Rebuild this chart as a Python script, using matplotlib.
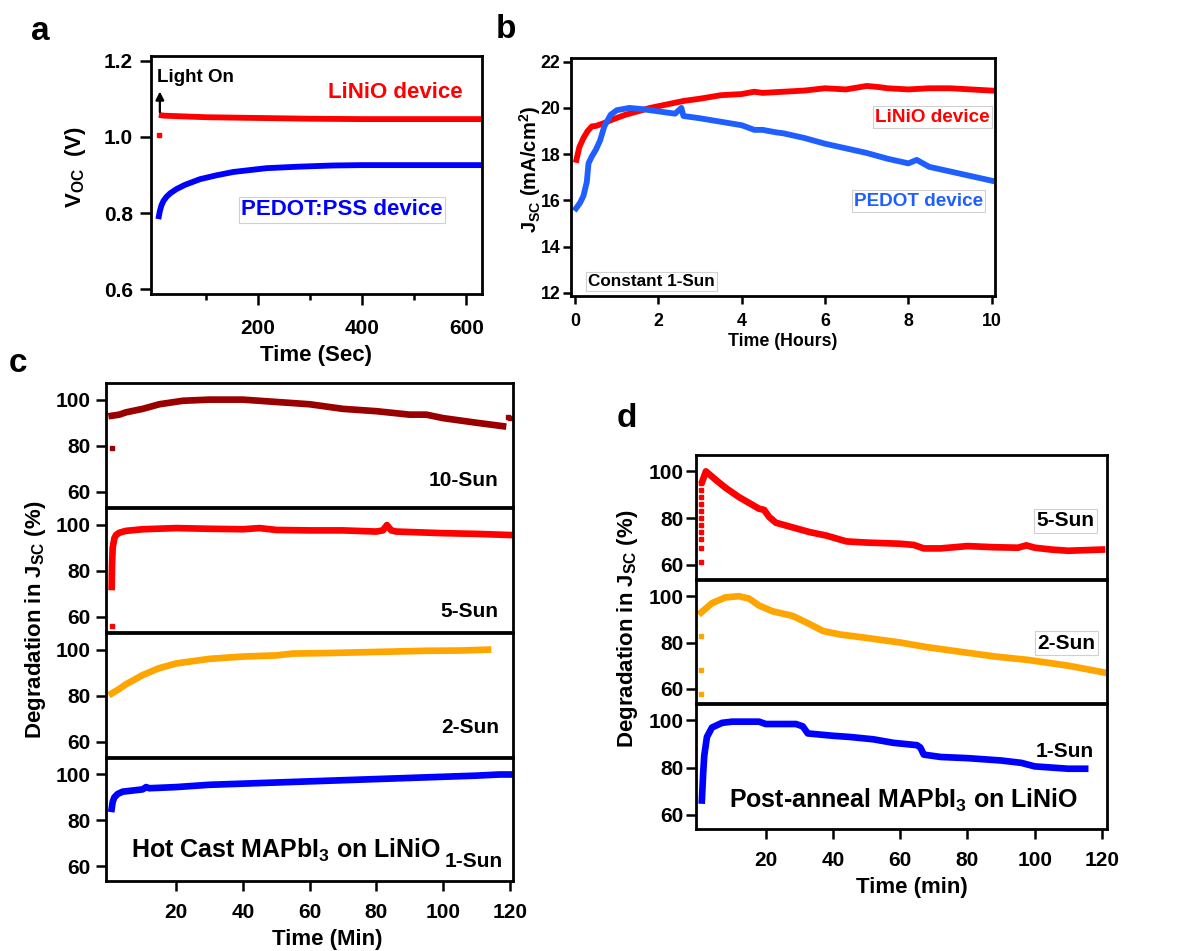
import matplotlib
matplotlib.use("Agg")
import matplotlib.pyplot as plt
from matplotlib import font_manager

# ---------------- data ----------------
# panel a : Voc vs time (s)
a_time_red = [10, 20, 40, 60, 100, 150, 200, 250, 300, 400, 500, 630]
a_voc_red = [1.058, 1.056, 1.055, 1.054, 1.052, 1.051, 1.050, 1.049, 1.048, 1.047, 1.047, 1.047]
a_time_red_first = [10]
a_voc_red_first = [1.005]
a_time_blue = [9, 12, 15, 19, 25, 32, 44, 60, 89, 120, 153, 217, 280, 344, 400, 500, 630]
a_voc_blue = [0.784, 0.805, 0.820, 0.832, 0.843, 0.852, 0.863, 0.874, 0.889, 0.899, 0.908, 0.918, 0.922, 0.925, 0.926, 0.926, 0.926]

# panel b : Jsc vs time (hours)
b_time_red = [0.03, 0.1, 0.2, 0.3, 0.4, 0.5, 0.7, 0.9, 1.2, 1.5, 1.8, 2.2, 2.6, 3.0, 3.5,
              4.0, 4.3, 4.5, 5.0, 5.5, 6.0, 6.5, 7.0, 7.3, 7.5, 8.0, 8.5, 9.0, 9.5, 10.0]
b_jsc_red = [17.75, 18.3, 18.7, 19.0, 19.2, 19.22, 19.35, 19.5, 19.7, 19.85, 20.0, 20.15, 20.3, 20.4, 20.55,
             20.6, 20.7, 20.65, 20.7, 20.75, 20.85, 20.8, 20.95, 20.9, 20.85, 20.8, 20.85, 20.85, 20.8, 20.75]
b_time_blue = [0.02, 0.12, 0.2, 0.28, 0.32, 0.4, 0.5, 0.6, 0.7, 0.85, 1.0, 1.3, 1.6, 2.0, 2.4, 2.55, 2.6,
               3.0, 3.5, 4.0, 4.3, 4.5, 4.8, 5.0, 5.5, 6.0, 6.5, 7.0, 7.5, 8.0, 8.2, 8.5, 9.0, 9.5, 10.0]
b_jsc_blue = [15.65, 15.9, 16.2, 16.8, 17.6, 17.9, 18.2, 18.6, 19.2, 19.7, 19.9, 20.0, 19.95, 19.85, 19.75, 20.0, 19.65,
              19.55, 19.4, 19.25, 19.05, 19.05, 18.95, 18.9, 18.7, 18.45, 18.25, 18.05, 17.8, 17.6, 17.75, 17.45, 17.25, 17.05, 16.85]

# panel c : hot cast, degradation (%) vs time (min)
c10_time = [0.7, 3, 5, 10, 15, 22, 30, 40, 50, 60, 70, 80, 90, 95, 100, 110, 118]
c10_val = [93, 93.5, 94.5, 96, 98, 99.5, 100, 100, 99, 98, 96, 95, 93.5, 93.5, 92, 90, 88.5]
c10_time_pts = [0.7, 119.5, 120]
c10_val_pts = [79, 92.5, 92]
c5_time = [0.7, 0.8, 1.0, 1.5, 2.0, 3, 5, 10, 20, 30, 40, 45, 50, 60, 70, 80, 82, 83.2, 84.5, 86, 90, 100, 110, 120]
c5_val = [73, 82, 90, 94, 95.5, 96.5, 97.3, 98, 98.5, 98.2, 98, 98.5, 97.7, 97.5, 97.5, 97, 97.5, 99.8, 97.5, 97, 96.8, 96.3, 96, 95.5]
c5_time_pts = [0.7]
c5_val_pts = [56]
c2_time = [0.7, 3, 5, 10, 15, 20, 25, 30, 40, 50, 55, 65, 80, 95, 105, 113.5]
c2_val = [81, 83, 85, 89, 92, 94, 95, 96, 97, 97.5, 98.3, 98.5, 99, 99.5, 99.6, 100]
c1_time = [0.7, 1.0, 1.5, 2.5, 4, 7, 10, 11, 12, 20, 30, 50, 70, 90, 110, 117, 120]
c1_val = [85, 88, 90, 91.5, 92.5, 93, 93.5, 94.5, 94, 94.5, 95.5, 96.5, 97.5, 98.5, 99.5, 100, 100]

# panel d : post-anneal, degradation (%) vs time (min)
d5_time = [1.2, 2.2, 3, 5, 8, 12, 15, 18, 19.5, 21, 23, 28, 33, 38, 44, 50, 60, 64, 67, 72, 80, 88, 95, 97.5, 100, 105, 110, 120]
d5_val = [96, 100, 99, 96.5, 93, 89, 86.5, 84, 83.5, 80.5, 78, 76, 74, 72.5, 70, 69.5, 69, 68.5, 67, 67, 68, 67.5, 67.3, 68.3, 67.3, 66.5, 66, 66.5]
d5_time_pts = [0.8, 0.8, 0.8, 0.8, 0.8, 0.8, 0.8, 0.8, 0.8, 0.8, 0.8]
d5_val_pts = [61, 67, 71, 74, 77, 80, 83, 86, 89, 92, 95]
d2_time = [0.8, 4, 8, 12, 15, 18, 22, 28, 33, 37, 42, 50, 60, 68, 78, 88, 98, 110, 121]
d2_val = [93, 97, 99.5, 100, 99, 96, 93.5, 91.5, 88, 85, 83.5, 82, 80, 78, 76, 74, 72.5, 70, 67]
d2_time_pts = [0.8, 0.8, 0.8]
d2_val_pts = [58, 68, 83]
d1_time = [1.0, 1.4, 1.7, 2.5, 4, 7, 10, 18, 20, 29, 31, 32.5, 40, 45, 52, 58, 65, 66, 67, 72, 80, 90, 96, 100, 110, 115]
d1_val = [66, 78, 85, 93, 97, 99, 99.5, 99.5, 98.5, 98.5, 97.5, 94.5, 93.5, 93, 92, 90.5, 89.5, 88.5, 85.5, 84.5, 84, 83, 82, 80.5, 79.5, 79.5]

# ---------------- style ----------------
avail = {f.name for f in font_manager.fontManager.ttflist}
fam = [f for f in ["Liberation Sans", "DejaVu Sans"] if f in avail]
HAS_NARROW = "Liberation Sans Narrow" in avail
NARROW = ["Liberation Sans Narrow"] + fam if HAS_NARROW else fam
NSCALE = 1.0 if HAS_NARROW else 0.85
plt.rcParams['font.family'] = fam
plt.rcParams['font.weight'] = 'bold'
plt.rcParams['mathtext.fontset'] = 'custom'
plt.rcParams['mathtext.rm'] = fam[0] + ':bold'
plt.rcParams['mathtext.it'] = fam[0] + ':bold'
plt.rcParams['mathtext.bf'] = fam[0] + ':bold'
plt.rcParams['mathtext.default'] = 'rm'

W, H = 1196, 951
fig = plt.figure(figsize=(W / 100, H / 100), dpi=100)

LABEL_FS = 16
RED = '#ff0000'
BLUE = '#0000ff'
BBLUE = '#1f5fff'
DRED = '#990000'
ORANGE = '#ffa500'
LW = 4.2


def ax_px(l, t, r, b):
    return fig.add_axes([l / W, 1 - b / H, (r - l) / W, (b - t) / H])


def style(ax, fs=15, xpad=8, ypad=4, tlen=7.5, xticks_on=True, family=None):
    for s in ax.spines.values():
        s.set_linewidth(2.0)
    ax.tick_params(axis='both', direction='out', width=1.8, length=tlen, labelsize=fs)
    ax.tick_params(axis='x', pad=xpad)
    ax.tick_params(axis='y', pad=ypad)
    for lab in ax.get_xticklabels() + ax.get_yticklabels():
        lab.set_fontweight('bold')
        if family:
            lab.set_family(family)
    if not xticks_on:
        ax.tick_params(axis='x', bottom=False, labelbottom=False)


def ftext(x, y, s, **kw):
    return fig.text(x / W, 1 - y / H, s, fontweight='bold', ha='center', va='center', **kw)


box = dict(boxstyle='square,pad=0.12', facecolor='white', edgecolor='#d0d0d0', linewidth=0.8)

# ---------------- panel a ----------------
ax = ax_px(151, 56, 482, 294)
ax.plot(a_time_red, a_voc_red, color=RED, lw=LW, solid_capstyle='butt')
ax.plot(a_time_red_first, a_voc_red_first, 's', color=RED, ms=3)
ax.plot(a_time_blue, a_voc_blue, color=BLUE, lw=LW, solid_capstyle='butt')
ax.set_xlim(-5, 630)
ax.set_ylim(0.587, 1.213)
ax.set_xticks([200, 400, 600])
ax.set_xticks([100, 300, 500], minor=True)
ax.set_yticks([0.6, 0.8, 1.0, 1.2])
ax.set_yticklabels(['0.6', '0.8', '1.0', '1.2'])
style(ax, fs=15, xpad=10, ypad=5, tlen=8)
ax.tick_params(axis='x', which='minor', direction='out', width=1.8, length=4.5)
ax.annotate('', xy=(12, 1.127), xytext=(12, 1.058),
            arrowprops=dict(arrowstyle='-|>', color='black', lw=1.6, mutation_scale=12))
ax.text(7, 1.157, 'Light On', fontsize=13.5, va='center', ha='left', fontweight='bold')
ax.text(334, 1.116, 'LiNiO device', fontsize=16, color=RED, va='center', ha='left', fontweight='bold')
ax.text(168, 0.808, 'PEDOT:PSS device', fontsize=16, color=BLUE, va='center', ha='left',
        fontweight='bold', bbox=box)
ftext(316, 355, 'Time (Sec)', fontsize=LABEL_FS)
ftext(75, 167, 'V$_{OC}$  (V)', fontsize=LABEL_FS, rotation=90)

# ---------------- panel b ----------------
ax = ax_px(571, 58, 995, 296)
ax.plot(b_time_red, b_jsc_red, color=RED, lw=LW)
ax.plot(b_time_blue, b_jsc_blue, color=BBLUE, lw=LW)
ax.set_xlim(-0.1, 10.08)
ax.set_ylim(11.86, 22.16)
ax.set_xticks([0, 2, 4, 6, 8, 10])
ax.set_yticks([12, 14, 16, 18, 20, 22])
style(ax, fs=15 * NSCALE, xpad=7, ypad=2, tlen=5.5, family=NARROW)
ax.text(9.96, 19.6, 'LiNiO device', fontsize=16 * NSCALE, color=RED, va='center', ha='right',
        fontweight='bold', family=NARROW, bbox=box)
ax.text(9.79, 15.97, 'PEDOT device', fontsize=16 * NSCALE, color=BBLUE, va='center', ha='right',
        fontweight='bold', family=NARROW, bbox=box)
ax.text(0.31, 12.47, 'Constant 1-Sun', fontsize=14.5 * NSCALE, color='black', va='center', ha='left',
        fontweight='bold', family=NARROW, bbox=box)
ftext(783, 342, 'Time (Hours)', fontsize=15 * NSCALE, family=NARROW)
ftext(530, 169, 'J$_{SC}$ (mA/cm$^{2}$)', fontsize=14.5, rotation=90)

# ---------------- panel c ----------------
c_rows = [(383, 507), (508, 632), (633, 757), (758, 881)]
c_series = [
    (c10_time, c10_val, c10_time_pts, c10_val_pts, DRED, '10-Sun', 116.6, 65.1),
    (c5_time, c5_val, c5_time_pts, c5_val_pts, RED, '5-Sun', 116.5, 62.4),
    (c2_time, c2_val, [], [], ORANGE, '2-Sun', 117.0, 66.1),
    (c1_time, c1_val, [], [], BLUE, '1-Sun', 118.0, 61.9),
]
for i, ((t, b), (xs, ys, xp, yp, col, lab, lx, ly)) in enumerate(zip(c_rows, c_series)):
    ax = ax_px(106, t, 513, b)
    ax.plot(xs, ys, color=col, lw=LW + 0.6)
    if xp:
        ax.plot(xp, yp, 's', color=col, ms=3.5)
    ax.set_xlim(-1, 121)
    ax.set_ylim(53.5, 107.2)
    ax.set_yticks([60, 80, 100])
    ax.set_xticks([20, 40, 60, 80, 100, 120])
    style(ax, fs=15, xpad=9, ypad=4, tlen=7, xticks_on=(i == 3))
    ax.text(lx, ly, lab, fontsize=15, ha='right', va='center', fontweight='bold')
    if i == 3:
        ax.text(6.5, 67, 'Hot Cast MAPbI$_3$ on LiNiO', fontsize=18, ha='left', va='center',
                fontweight='bold')
ftext(327, 940, 'Time (Min)', fontsize=LABEL_FS)
ftext(36, 620, 'Degradation in J$_{SC}$ (%)', fontsize=LABEL_FS, rotation=90)

# ---------------- panel d ----------------
d_rows = [(455, 579), (580, 703), (704, 829)]
d_series = [
    (d5_time, d5_val, d5_time_pts, d5_val_pts, RED, '5-Sun', 117.9, 78.9, True),
    (d2_time, d2_val, d2_time_pts, d2_val_pts, ORANGE, '2-Sun', 118.0, 79.8, True),
    (d1_time, d1_val, [], [], BLUE, '1-Sun', 117.7, 86.9, False),
]
for i, ((t, b), (xs, ys, xp, yp, col, lab, lx, ly, bx)) in enumerate(zip(d_rows, d_series)):
    ax = ax_px(696, t, 1107, b)
    ax.plot(xs, ys, color=col, lw=LW + 0.6)
    if xp:
        ax.plot(xp, yp, 's', color=col, ms=3.5)
    ax.set_xlim(-0.75, 121.5)
    ax.set_ylim(53.9, 107.0)
    ax.set_yticks([60, 80, 100])
    ax.set_xticks([20, 40, 60, 80, 100, 120])
    style(ax, fs=15, xpad=9, ypad=2, tlen=7, xticks_on=(i == 2))
    ax.text(lx, ly, lab, fontsize=15, ha='right', va='center', fontweight='bold',
            bbox=box if bx else None)
    if i == 2:
        ax.text(9.2, 66.2, 'Post-anneal MAPbI$_3$ on LiNiO', fontsize=18, ha='left', va='center',
                fontweight='bold')
ftext(912, 888, 'Time (min)', fontsize=LABEL_FS)
ftext(628, 629, 'Degradation in J$_{SC}$ (%)', fontsize=LABEL_FS, rotation=90)

# ---------------- panel letters ----------------
for s, x, y in [('a', 40, 32), ('b', 506, 30), ('c', 18, 363), ('d', 627, 419)]:
    ftext(x, y, s, fontsize=24)

fig.savefig('out.png', dpi=100)
